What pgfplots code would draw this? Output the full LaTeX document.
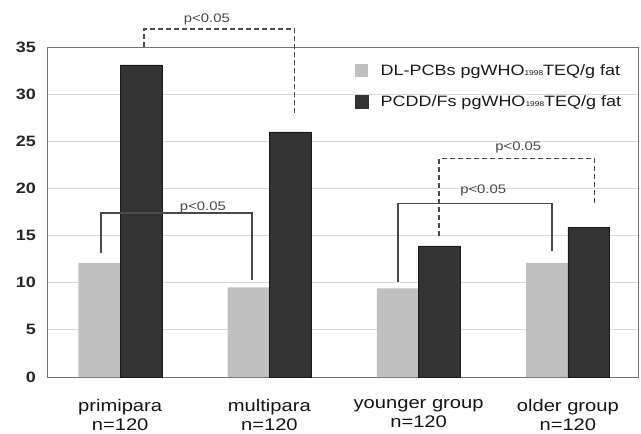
\documentclass[border=0pt]{standalone}
\usepackage{pgfplots}
\pgfplotsset{compat=1.18}
\usepackage{fontspec}
\setmainfont[FakeStretch=1.2]{Liberation Sans}
\definecolor{lightbar}{HTML}{C0C0C0}
\definecolor{darkbar}{HTML}{333333}
\definecolor{brk}{HTML}{4A4A4A}
\begin{document}
\begin{tikzpicture}
\begin{axis}[
  scale only axis, width=591bp, height=330bp,
  xmin=-0.49, xmax=3.47, ymin=0, ymax=35,
  ytick={0,5,...,35}, xtick={0,1,2,3},
  xticklabels={{primipara\\n=120},{multipara\\n=120},{younger group\\n=120},{older group\\n=120}},
  xticklabel style={align=center, font=\fontsize{16.8bp}{19bp}\selectfont, text=black!92, anchor=north, inner sep=0pt, yshift=-22bp},
  yticklabel style={font=\bfseries\fontsize{15bp}{15bp}\selectfont, text=black!85, anchor=east, inner sep=0pt, xshift=-11bp},
  /pgf/number format/assume math mode=true,
  major tick length=0pt,
  ymajorgrids, major grid style={draw=black!15, line width=0.8bp},
  axis line style={draw=black!55, line width=1bp},
  clip=false,
  legend style={at={(rel axis cs:0.521,0.948)}, anchor=north west, draw=none, fill=none,
    font=\fontsize{15bp}{15bp}\selectfont, text=black!90, row sep=18bp, inner sep=0pt,
    nodes={inner sep=0pt},
    /tikz/every odd column/.append style={column sep=12bp}},
  legend cell align=left,
]
\addplot[ybar, bar width=0.28, bar shift=-0.14, fill=lightbar, draw=none,
  legend image code/.code={\fill[lightbar] (0bp,-6.5bp) rectangle (13bp,6.5bp);}]
  coordinates {(0,12.1) (1,9.5) (2,9.4) (3,12.1)};
\addlegendentry{DL-PCBs pgWHO{\fontsize{7bp}{7bp}\selectfont 1998}TEQ/g fat}
\addplot[ybar, bar width=0.28, bar shift=0.14, fill=darkbar, draw=black!90, line width=0.4bp,
  legend image code/.code={\fill[darkbar] (0bp,-6.5bp) rectangle (13bp,6.5bp);}]
  coordinates {(0,33.1) (1,26.0) (2,13.9) (3,15.9)};
\addlegendentry{PCDD/Fs pgWHO{\fontsize{7bp}{7bp}\selectfont 1998}TEQ/g fat}

\coordinate (SW) at (rel axis cs:0,0);
\coordinate (NE) at (rel axis cs:1,1);

% significance brackets
\draw[brk, line width=1.4bp, dash pattern=on 5bp off 3bp]
  (axis cs:0.159,35) -- (axis cs:0.159,36.9) -- (axis cs:1.17,36.9) -- (axis cs:1.17,27.8);
\node[text=brk, font=\fontsize{12.4bp}{12.4bp}\selectfont, inner sep=0pt] at (axis cs:0.581,37.9) {p<0.05};

\draw[brk, line width=1.4bp]
  (axis cs:-0.129,13.2) -- (axis cs:-0.129,17.4) -- (axis cs:0.883,17.4) -- (axis cs:0.883,10.3);
\node[text=brk, font=\fontsize{12.4bp}{12.4bp}\selectfont, inner sep=0pt] at (axis cs:0.555,18.0) {p<0.05};

\draw[brk, line width=1.4bp]
  (axis cs:1.862,10.1) -- (axis cs:1.862,18.4) -- (axis cs:2.895,18.4) -- (axis cs:2.895,13.4);
\node[text=brk, font=\fontsize{12.4bp}{12.4bp}\selectfont, inner sep=0pt] at (axis cs:2.433,19.8) {p<0.05};

\draw[brk, line width=1.4bp, dash pattern=on 5bp off 3bp]
  (axis cs:2.137,15.0) -- (axis cs:2.137,23.2) -- (axis cs:3.177,23.2) -- (axis cs:3.177,18.5);
\node[text=brk, font=\fontsize{12.4bp}{12.4bp}\selectfont, inner sep=0pt] at (axis cs:2.668,24.3) {p<0.05};
\end{axis}
\path ([shift={(-47bp,-57bp)}]SW) rectangle ([shift={(3bp,47bp)}]NE);
\end{tikzpicture}
\end{document}
